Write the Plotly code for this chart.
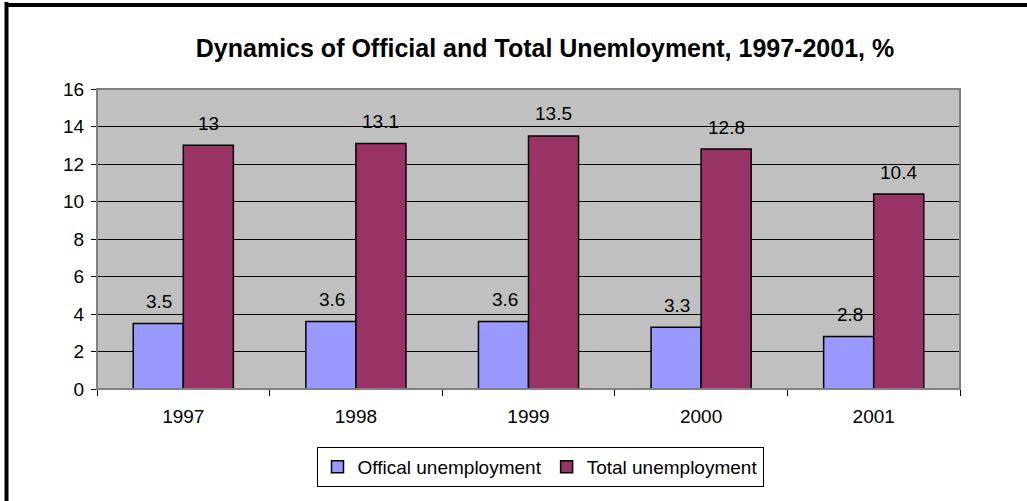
import plotly.graph_objects as go

years = ["1997", "1998", "1999", "2000", "2001"]
official = [3.5, 3.6, 3.6, 3.3, 2.8]
total = [13, 13.1, 13.5, 12.8, 10.4]
series_names = ["Offical unemployment", "Total unemployment"]
title_text = "Dynamics of Official and Total Unemloyment, 1997-2001, %"

FONT = "Liberation Sans, Arial, sans-serif"
W, H = 1027, 501
L, R, T, B = 97, 67, 89, 112
pw, ph = W - L - R, H - T - B

fig = go.Figure()
fig.add_trace(go.Bar(x=years, y=official, name=series_names[0],
                     marker=dict(color="#9999FF", line=dict(color="black", width=1.5))))
fig.add_trace(go.Bar(x=years, y=total, name=series_names[1],
                     marker=dict(color="#993366", line=dict(color="black", width=1.5))))

annotations = []
for i, yr in enumerate(years):
    for vals, xs in ((official, -24), (total, 25)):
        annotations.append(dict(x=i, y=vals[i], text=str(vals[i]), showarrow=False,
                                xshift=xs, yshift=22, yanchor="middle",
                                font=dict(family=FONT, size=19, color="black")))

# outer border (left and top)
bx = (6.5 - L) / pw
by = 1 + (T - 5) / ph
shapes = [
    dict(type="line", xref="paper", yref="paper", x0=bx, x1=bx, y0=-1, y1=by + 0.01,
         line=dict(color="black", width=4)),
    dict(type="line", xref="paper", yref="paper", x0=bx, x1=1.5, y0=by, y1=by,
         line=dict(color="black", width=4)),
    dict(type="rect", xref="paper", yref="paper", x0=0, x1=1, y0=0, y1=1,
         line=dict(color="#808080", width=2), layer="above"),
]

fig.update_layout(
    width=W, height=H,
    margin=dict(l=L, r=R, t=T, b=B),
    paper_bgcolor="white", plot_bgcolor="#C0C0C0",
    barmode="group", bargap=0.42, bargroupgap=0,
    font=dict(family=FONT, size=19, color="black"),
    title=dict(text="<b>" + title_text + "</b>", x=545 / W, xanchor="center",
               y=1 - 48 / H, yanchor="middle", font=dict(family=FONT, size=25, color="black")),
    showlegend=True,
    legend=dict(orientation="h", x=(540 - L) / pw, xanchor="center", y=-(467 - T - ph) / ph,
                yanchor="middle", bgcolor="white", bordercolor="black", borderwidth=1,
                font=dict(family=FONT, size=19, color="black"),
                traceorder="normal", itemwidth=30, tracegroupgap=0),
    annotations=annotations,
    shapes=shapes,
)
fig.update_xaxes(type="category", range=[-0.5, len(years) - 0.5], showline=True,
                 linecolor="black", linewidth=1, ticks="outside",
                 tickson="boundaries", ticklen=6, tickcolor="black", showgrid=False,
                 tickfont=dict(size=19), ticklabelstandoff=10)
fig.update_yaxes(range=[0, 16], dtick=2, showline=True, linecolor="black", linewidth=1,
                 ticks="outside", ticklen=5, tickcolor="black", showgrid=True,
                 gridcolor="black", gridwidth=1, zeroline=False, tickfont=dict(size=19),
                 ticklabelstandoff=3)

fig.write_html("out.html")
